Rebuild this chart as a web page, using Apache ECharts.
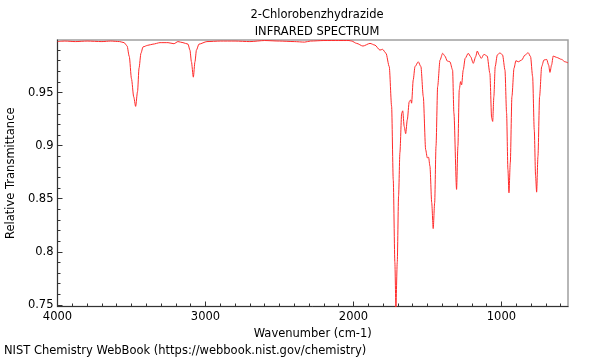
<!DOCTYPE html>
<html>
<head>
<meta charset="utf-8">
<script src="https://cdn.jsdelivr.net/npm/echarts@6/dist/echarts.min.js"></script>
<style>html,body{margin:0;padding:0;background:#fff}#c{width:600px;height:360px}</style>
</head>
<body>
<div id="c"></div>
<script>
const titleLines = ["2-Chlorobenzhydrazide", "INFRARED SPECTRUM"];
const xName = "Wavenumber (cm-1)";
const yName = "Relative Transmittance";
const footer = "NIST Chemistry WebBook (https://webbook.nist.gov/chemistry)";
const xMajorTicks = [4000, 3000, 2000, 1000];
const xMinorTicks = [3900,3800,3700,3600,3500,3400,3300,3200,3100,2900,2800,2700,2600,2500,2400,2300,2200,2100,1900,1800,1700,1600,1500,1400,1300,1200,1100,900,800,700,600];
const yMajorTicks = [0.75, 0.8, 0.85, 0.9, 0.95];
const yMinorTicks = [0.76,0.77,0.78,0.79,0.81,0.82,0.83,0.84,0.86,0.87,0.88,0.89,0.91,0.92,0.93,0.94,0.96,0.97,0.98,0.99];

const wavenumber = [4000,3950,3880,3800,3700,3640,3580,3550,3530,3515,3500,3485,3472,3459,3449,3436,3422,3390,3355,3307,3253,3213,3186,3152,3118,3105,3095,3082,3071,3061,3044,2990,2900,2800,2700,2600,2500,2400,2330,2290,2200,2100,2030,2012,1978,1936,1888,1855,1821,1803,1780,1758,1742,1731,1720,1713,1704,1695,1686,1674,1667,1657,1647,1636,1623,1613,1607,1596,1584,1562,1544,1528,1512,1501,1492,1483,1471,1461,1451,1442,1431,1415,1397,1382,1366,1348,1330,1321,1303,1294,1285,1276,1269,1258,1245,1224,1208,1190,1174,1163,1150,1136,1118,1096,1078,1066,1059,1051,1042,1028,1010,992,976,965,956,949,940,929,915,902,886,863,841,819,803,789,778,769,762,753,742,728,713,694,681,672,661,650,627,593,571,550];
const transmittance = [0.998,0.9985,0.998,0.9985,0.998,0.9985,0.998,0.997,0.994,0.984,0.963,0.946,0.937,0.951,0.973,0.987,0.993,0.9945,0.9956,0.997,0.997,0.996,0.998,0.997,0.9956,0.990,0.979,0.9645,0.979,0.990,0.9956,0.998,0.9985,0.9985,0.998,0.999,0.9985,0.998,0.9975,0.9985,0.999,0.999,0.999,0.9985,0.9963,0.9938,0.9963,0.9947,0.990,0.9907,0.987,0.9744,0.937,0.868,0.790,0.747,0.790,0.8525,0.8934,0.9306,0.9328,0.9181,0.9113,0.9244,0.9415,0.9431,0.940,0.9619,0.9744,0.979,0.9744,0.9462,0.8963,0.8885,0.889,0.8806,0.8463,0.8219,0.8463,0.8994,0.9556,0.9806,0.987,0.9844,0.9797,0.979,0.9713,0.9306,0.8588,0.8994,0.9525,0.9603,0.9572,0.9713,0.9822,0.987,0.9838,0.9775,0.9838,0.9891,0.9853,0.9822,0.986,0.9844,0.9681,0.926,0.9228,0.9462,0.9744,0.9853,0.9875,0.9853,0.9713,0.9306,0.8775,0.8556,0.8838,0.9462,0.9728,0.980,0.979,0.9806,0.9853,0.9875,0.9838,0.965,0.915,0.8713,0.8562,0.890,0.9462,0.9744,0.9806,0.9812,0.9759,0.969,0.9759,0.9844,0.9831,0.9812,0.979,0.978];

const seriesData = wavenumber.map((w, i) => [w, transmittance[i]]);
const FONT = "DejaVu Sans";
const FS = 11.5;
const chart = echarts.init(document.getElementById('c'));
const common = { min: 550, max: 4000, inverse: true, type: 'value', splitLine: { show: false } };
const yCommon = { type: 'value', min: 0.7485, max: 0.9995, splitLine: { show: false } };
chart.setOption({
  animation: false,
  title: [
    { text: titleLines[0], left: 312, top: 4, textAlign: 'center', textStyle: { fontFamily: FONT, fontSize: FS, fontWeight: 'normal', color: '#000' } },
    { text: titleLines[1], left: 312, top: 21, textAlign: 'center', textStyle: { fontFamily: FONT, fontSize: FS, fontWeight: 'normal', color: '#000' } }
  ],
  graphic: [{ type: 'text', left: 4, top: 345, style: { text: footer, font: FS + 'px "DejaVu Sans"', fill: '#000' } }],
  grid: { left: 57.5, right: 32, top: 40, bottom: 53.5, show: true, borderColor: '#a0a0a0', borderWidth: 1.5, backgroundColor: '#fff', containLabel: false, outerBoundsMode: 'none' },
  xAxis: [
    Object.assign({}, common, {
      position: 'bottom', name: xName, nameLocation: 'middle', nameGap: 20,
      nameTextStyle: { fontFamily: FONT, fontSize: FS, color: '#000' },
      axisLine: { show: true, lineStyle: { color: '#333', width: 1 } },
      axisTick: { show: true, inside: true, length: 5, customValues: xMajorTicks, lineStyle: { color: '#333' } },
      axisLabel: { show: true, customValues: xMajorTicks, fontFamily: FONT, fontSize: FS, color: '#000', margin: 5, formatter: v => String(v) }
    }),
    Object.assign({}, common, {
      position: 'bottom',
      axisLine: { show: false },
      axisTick: { show: true, inside: true, length: 3, customValues: xMinorTicks, lineStyle: { color: '#333' } },
      axisLabel: { show: false }
    })
  ],
  yAxis: [
    Object.assign({}, yCommon, {
      position: 'left', name: yName, nameLocation: 'middle', nameGap: 40,
      nameTextStyle: { fontFamily: FONT, fontSize: FS, color: '#000' },
      axisLine: { show: true, lineStyle: { color: '#333', width: 1 } },
      axisTick: { show: true, inside: true, length: 5, customValues: yMajorTicks, lineStyle: { color: '#333' } },
      axisLabel: { show: true, customValues: yMajorTicks, fontFamily: FONT, fontSize: FS, color: '#000', margin: 4, formatter: v => String(+v.toFixed(2)) }
    }),
    Object.assign({}, yCommon, {
      position: 'left',
      axisLine: { show: false },
      axisTick: { show: true, inside: true, length: 3, customValues: yMinorTicks, lineStyle: { color: '#333' } },
      axisLabel: { show: false }
    })
  ],
  series: [{
    type: 'line', xAxisIndex: 0, yAxisIndex: 0, data: seriesData, showSymbol: false,
    smooth: 0.25, smoothMonotone: 'x', clip: true,
    lineStyle: { color: '#ff2a2a', width: 1 }
  }]
});
</script>
</body>
</html>
